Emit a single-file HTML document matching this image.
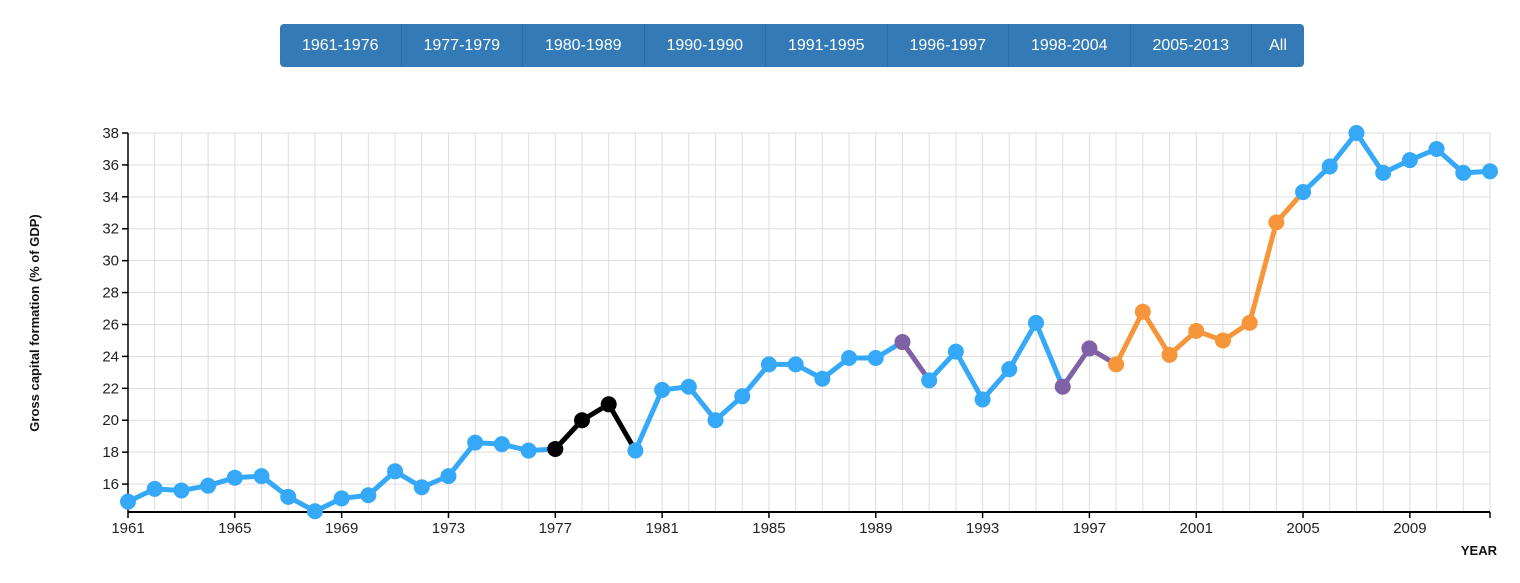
<!DOCTYPE html>
<html><head><meta charset="utf-8"><style>
body{margin:0;width:1520px;height:583px;background:#fff;font-family:"Liberation Sans",sans-serif;overflow:hidden;position:relative}
.btns{position:absolute;left:280px;top:24px;height:43px;display:flex;border-radius:4px;overflow:hidden;background:#337ab7}
.btn{height:43px;line-height:43px;color:#fff;font-size:16px;text-align:center;width:121.5px;border-right:1px solid #2e6da4;box-sizing:border-box}
.btn:last-child{width:52px;border-right:none}
svg{position:absolute;left:0;top:0}
</style></head><body>
<div class="btns">
<div class="btn">1961-1976</div>
<div class="btn">1977-1979</div>
<div class="btn">1980-1989</div>
<div class="btn">1990-1990</div>
<div class="btn">1991-1995</div>
<div class="btn">1996-1997</div>
<div class="btn">1998-2004</div>
<div class="btn">2005-2013</div>
<div class="btn">All</div>
</div>
<svg id="chart" width="1520" height="583"></svg>
<script>
const years=[1961,1962,1963,1964,1965,1966,1967,1968,1969,1970,1971,1972,1973,1974,1975,1976,1977,1978,1979,1980,1981,1982,1983,1984,1985,1986,1987,1988,1989,1990,1991,1992,1993,1994,1995,1996,1997,1998,1999,2000,2001,2002,2003,2004,2005,2006,2007,2008,2009,2010,2011,2012];
const values=[14.9,15.7,15.6,15.9,16.4,16.5,15.2,14.3,15.1,15.3,16.8,15.8,16.5,18.6,18.5,18.1,18.2,20.0,21.0,18.1,21.9,22.1,20.0,21.5,23.5,23.5,22.6,23.9,23.9,24.9,22.5,24.3,21.3,23.2,26.1,22.1,24.5,23.5,26.8,24.1,25.6,25.0,26.1,32.4,34.3,35.9,38.0,35.5,36.3,37.0,35.5,35.6];
const periodStarts=[1961,1977,1980,1990,1991,1996,1998,2005];
const periodColors=["#35a9f7","#000000","#35a9f7","#7f62a6","#35a9f7","#7f62a6","#f7953a","#35a9f7"];
const yTicks=[16,18,20,22,24,26,28,30,32,34,36,38];
const xTicks=[1961,1965,1969,1973,1977,1981,1985,1989,1993,1997,2001,2005,2009];
const X0=128,X1=1490,Y0=512,Y1=133,xMin=1961,xMax=2012,yMin=14.25,yMax=38;
const xs=v=>X0+(v-xMin)/(xMax-xMin)*(X1-X0);
const ys=v=>Y0-(v-yMin)/(yMax-yMin)*(Y0-Y1);
const NS="http://www.w3.org/2000/svg",svg=document.getElementById('chart');
function mk(t,a,p){const e=document.createElementNS(NS,t);for(const k in a)e.setAttribute(k,a[k]);(p||svg).appendChild(e);return e;}
function colorOf(y){let c=periodColors[0];periodStarts.forEach((s,i)=>{if(y>=s)c=periodColors[i];});return c;}
const grid=mk('g',{});


for(let y=xMin;y<=xMax;y++){const l=mk('line',{x1:xs(y),x2:xs(y),y1:Y1,y2:Y0,stroke:'#ddd','stroke-width':1},grid);}
yTicks.forEach(v=>{mk('line',{x1:X0,x2:X1,y1:ys(v),y2:ys(v),stroke:'#ddd','stroke-width':1},grid);});
mk('line',{x1:X0,x2:X1,y1:Y1,y2:Y1,stroke:'#ddd'},grid);
const ya=mk('g',{});


mk('line',{x1:X0,x2:X0,y1:Y1,y2:Y0,stroke:'#000','stroke-width':1.5},ya);
yTicks.forEach(v=>{mk('line',{x1:X0-6,x2:X0,y1:ys(v),y2:ys(v),stroke:'#000','stroke-width':1.5},ya);
const t=mk('text',{x:X0-9,y:ys(v)+5,'text-anchor':'end','font-size':15,fill:'#222'},ya);t.textContent=v;});
const xa=mk('g',{});


mk('line',{x1:X0,x2:X1,y1:Y0,y2:Y0,stroke:'#000','stroke-width':2},xa);
xTicks.concat([2012]).forEach(v=>{mk('line',{x1:xs(v),x2:xs(v),y1:Y0,y2:Y0+6,stroke:'#000','stroke-width':1.5},xa);});
xTicks.forEach(v=>{const t=mk('text',{x:xs(v),y:Y0+21,'text-anchor':'middle','font-size':15,fill:'#222'},xa);t.textContent=v;});
const xt=mk('text',{x:1497,y:555,'text-anchor':'end','font-size':13,'font-weight':'bold',fill:'#111'});
xt.textContent='YEAR';


const yt=mk('text',{x:0,y:0,transform:'translate(39,323) rotate(-90)','text-anchor':'middle','font-size':13,'font-weight':'bold',fill:'#111'});
yt.textContent='Gross capital formation (% of GDP)';


const lines=mk('g',{});


for(let i=0;i<years.length-1;i++){const s=mk('line',{x1:xs(years[i]),y1:ys(values[i]),x2:xs(years[i+1]),y2:ys(values[i+1]),stroke:colorOf(years[i]),'stroke-width':5,'stroke-linecap':'round'},lines);
}
const pts=mk('g',{});


years.forEach((y,i)=>{const c=mk('circle',{cx:xs(y),cy:ys(values[i]),r:8,fill:colorOf(y)},pts);

});
</script>
</body></html>
